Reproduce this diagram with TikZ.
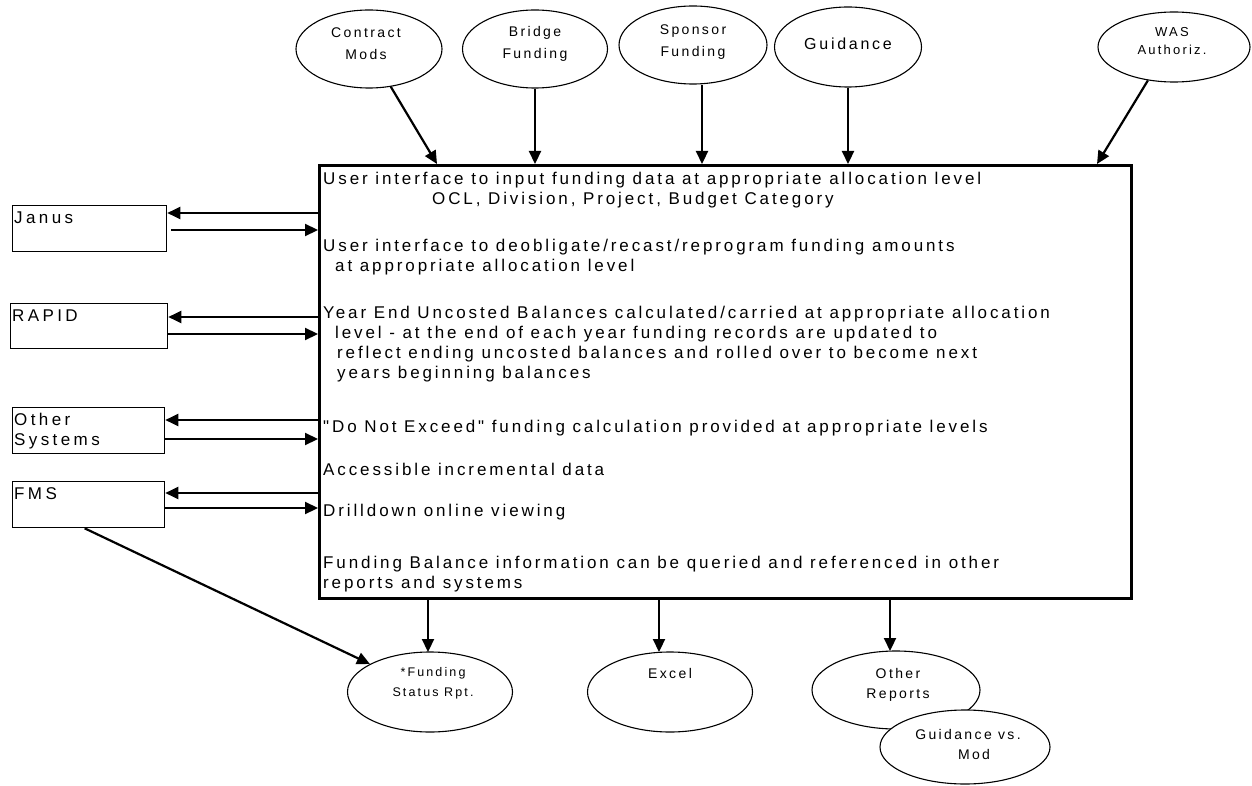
\documentclass[tikz,border=0pt]{standalone}
\usepackage{fontspec}
\setmainfont{Liberation Sans}
\newfontfamily\spaced[LetterSpace=17]{Liberation Sans}
\newfontfamily\wide[LetterSpace=20]{Liberation Sans}
\usetikzlibrary{shapes.geometric,arrows.meta,calc}
\begin{document}
\begin{tikzpicture}[x=1pt,y=-1pt,
  arr/.style={line width=2.2pt,-{Triangle[length=13pt,width=12pt]}},
  oval/.style={ellipse,draw,line width=1.1pt,fill=white,inner sep=0pt},
  ovaltext/.style={align=center,font=\spaced\fontsize{14}{22}\selectfont,inner sep=0pt},
  sysbox/.style={draw,line width=1.3pt,inner sep=0pt,anchor=north west},
  systext/.style={anchor=north west,align=left,font=\wide\fontsize{17}{20}\selectfont,inner sep=0pt},
  bline/.style={anchor=base west,font=\spaced\fontsize{17}{18}\selectfont,inner sep=0pt},
]
\useasboundingbox (0,0) rectangle (1252,786);

% central function box
\node[draw,line width=2.8pt,anchor=north west,minimum width=812pt,minimum height=433pt,inner sep=0pt] (main) at (318,164) {};

\node[bline] (l1)  at (323,185) {User interface to input funding data at appropriate allocation level};
\node[bline] (l2)  at (432,205) {OCL, Division, Project, Budget Category};
\node[bline] (l3)  at (323,252) {User interface to deobligate/recast/reprogram funding amounts};
\node[bline] (l4)  at (335,272) {at appropriate allocation level};
\node[bline] (l5)  at (323,318) {Year End Uncosted Balances calculated/carried at appropriate allocation};
\node[bline] (l6)  at (335,338) {level - at the end of each year funding records are updated to};
\node[bline] (l7)  at (337,358) {reflect ending uncosted balances and rolled over to become next};
\node[bline] (l8)  at (337,378) {years beginning balances};
\node[bline] (l9)  at (323,432) {"Do Not Exceed" funding calculation provided at appropriate levels};
\node[bline] (l10) at (323,475) {Accessible incremental data};
\node[bline] (l11) at (323,516) {Drilldown online viewing};
\node[bline] (l12) at (323,568) {Funding Balance information can be queried and referenced in other};
\node[bline] (l13) at (323,588) {reports and systems};

% source systems on the left
\node[sysbox,minimum width=154pt,minimum height=46pt] (ja) at (12,205) {};
\node[systext] (ja-t) at (14,212) {Janus};
\node[sysbox,minimum width=157pt,minimum height=45pt] (ra) at (10,303) {};
\node[systext] (ra-t) at (12,310) {RAPID};
\node[sysbox,minimum width=152pt,minimum height=46pt] (os) at (12,407) {};
\node[systext] (os-t) at (14,413) {Other\\Systems};
\node[sysbox,minimum width=152pt,minimum height=46pt] (fm) at (12,481) {};
\node[systext] (fm-t) at (14,487) {FMS};

\coordinate (ja-a) at ([yshift=-8pt]ja.north east);
\coordinate (ja-b) at ([xshift=4pt,yshift=-25pt]ja.north east);
\coordinate (ra-a) at ([yshift=-14pt]ra.north east);
\coordinate (ra-b) at ([yshift=-31pt]ra.north east);
\coordinate (os-a) at ([yshift=-13pt]os.north east);
\coordinate (os-b) at ([yshift=-32pt]os.north east);
\coordinate (fm-a) at ([yshift=-12pt]fm.north east);
\coordinate (fm-b) at ([yshift=-27pt]fm.north east);
\foreach \s in {ja,ra,os,fm}{
  \draw[arr] (main.west |- \s-a) -- (\s-a);
  \draw[arr] (\s-b) -- (main.west |- \s-b);
}

% inputs along the top
\node[oval,minimum width=146pt,minimum height=78pt] (cm) at (369,49) {};
\node[ovaltext] (cm-t) at (366,44) {Contract\\Mods};
\node[oval,minimum width=145pt,minimum height=78pt] (bf) at (535,49) {};
\node[ovaltext] (bf-t) at (535,44) {Bridge\\Funding};
\node[oval,minimum width=148pt,minimum height=78pt] (sf) at (693,45) {};
\node[ovaltext] (sf-t) at (693,42) {Sponsor\\Funding};
\node[oval,minimum width=147pt,minimum height=80pt] (gd) at (848,47) {};
\node[ovaltext,font=\spaced\fontsize{16}{20}\selectfont] (gd-t) at (848,44) {Guidance};
\node[oval,minimum width=152pt,minimum height=70pt] (wa) at (1174,47) {};
\node[ovaltext,font=\spaced\fontsize{13}{18}\selectfont] (wa-t) at (1172,41) {WAS\\Authoriz.};

\coordinate (cm-in) at (437,164);
\coordinate (wa-in) at (1097,164);
\coordinate (sf-out) at ([xshift=9pt]sf.south);
\draw[arr] (cm.300) -- (cm-in);
\draw[arr] (bf.south) -- (bf.south |- main.north);
\draw[arr] (sf-out) -- (sf-out |- main.north);
\draw[arr] (gd.south) -- (gd.south |- main.north);
\draw[arr] (wa.232) -- (wa-in);

% outputs along the bottom
\node[oval,minimum width=165pt,minimum height=80pt] (fs) at (430,692) {};
\node[ovaltext,font=\spaced\fontsize{12.5}{20}\selectfont] (fs-t) at (433,683) {*Funding\\Status Rpt.};
\node[oval,minimum width=165pt,minimum height=80pt] (ex) at (670,692) {};
\node[ovaltext] (ex-t) at (670,673) {Excel};
\node[oval,minimum width=168pt,minimum height=78pt] (or) at (896,690) {};
\node[ovaltext,font=\spaced\fontsize{14}{20}\selectfont] (or-t) at (898,685) {Other\\Reports};
\node[oval,minimum width=170pt,minimum height=74pt] (gm) at (965,747) {};
\node[ovaltext,font=\spaced\fontsize{14}{20}\selectfont] (gm-t) at (968,744) {Guidance vs.\\\hspace*{12pt}Mod};

\coordinate (fs-in) at (428,652);
\coordinate (ex-in) at (659,652);
\coordinate (or-in) at (890,651);
\foreach \o in {fs,ex,or}{
  \draw[arr] (main.south -| \o-in) -- (\o-in);
}
\draw[arr] ([xshift=-4pt]fm.south) -- (fs.155);
\end{tikzpicture}
\end{document}
